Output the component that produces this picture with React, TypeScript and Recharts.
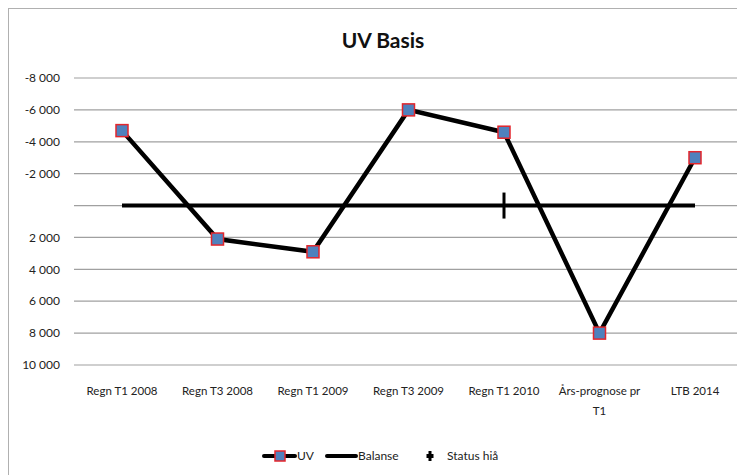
import { LineChart, Line, XAxis, YAxis, CartesianGrid } from "recharts";

const categories = [
  "Regn T1 2008",
  "Regn T3 2008",
  "Regn T1 2009",
  "Regn T3 2009",
  "Regn T1 2010",
  "Års-prognose pr T1",
  "LTB 2014",
];
const uvValues = [-4700, 2100, 2900, -6000, -4600, 8000, -3000];
const balanseValues = [0, 0, 0, 0, 0, 0, 0];
const statusValues = [null, null, null, null, 0, null, null];
const yTicks = [-8000, -6000, -4000, -2000, 0, 2000, 4000, 6000, 8000, 10000];

const data = categories.map((name, i) => ({
  name,
  uv: uvValues[i],
  balanse: balanseValues[i],
  status: statusValues[i],
}));

const FONT = "Lato, 'Open Sans', sans-serif";

const formatNumber = (v: number) => {
  if (v === 0) return "";
  const abs = Math.abs(v);
  const s = abs >= 1000 ? `${Math.floor(abs / 1000)} ${String(abs % 1000).padStart(3, "0")}` : String(abs);
  return v < 0 ? `-${s}` : s;
};

const wrap = (label: string, max: number) => {
  const words = label.split(" ");
  const lines: string[] = [];
  let cur = "";
  words.forEach((w) => {
    const next = cur ? `${cur} ${w}` : w;
    if (next.length > max && cur) {
      lines.push(cur);
      cur = w;
    } else {
      cur = next;
    }
  });
  if (cur) lines.push(cur);
  return lines;
};

const CategoryTick = ({ x, y, payload }: any) => {
  const lines = wrap(payload.value, 16);
  return (
    <text x={x} y={y} textAnchor="middle" fontSize={11.5} fill="#222" fontFamily={FONT}>
      {lines.map((l, i) => (
        <tspan key={i} x={x} dy={i === 0 ? 22 : 20}>
          {l}
        </tspan>
      ))}
    </text>
  );
};

const SquareDot = ({ cx, cy }: any) => {
  if (cx == null || cy == null) return null;
  return <rect x={cx - 6} y={cy - 6} width={12} height={12} fill="#4f81bd" stroke="#e3262c" strokeWidth={1.5} />;
};

const BarDot = ({ cx, cy }: any) => {
  if (cx == null || cy == null) return null;
  return <rect x={cx - 1.5} y={cy - 13} width={3} height={26} fill="#000" />;
};

const CustomLegend = () => (
  <div
    style={{
      position: "absolute",
      top: 437,
      left: 0,
      width: 736,
      height: 20,
      fontFamily: FONT,
      fontSize: 12,
      color: "#222",
    }}
  >
    <svg width={736} height={20} style={{ position: "absolute", left: 0, top: 0 }}>
      <line x1={255} y1={10} x2={286} y2={10} stroke="#000" strokeWidth={4} strokeLinecap="round" />
      <rect x={266} y={5} width={10} height={10} fill="#4f81bd" stroke="#e3262c" strokeWidth={1.5} />
      <line x1={318} y1={10} x2={347} y2={10} stroke="#000" strokeWidth={4} strokeLinecap="round" />
      <rect x={419.5} y={5} width={3} height={10} fill="#000" />
      <rect x={417.5} y={8} width={7} height={4} fill="#000" />
    </svg>
    <span style={{ position: "absolute", left: 288, top: 2 }}>UV</span>
    <span style={{ position: "absolute", left: 349, top: 2 }}>Balanse</span>
    <span style={{ position: "absolute", left: 438, top: 2 }}>Status hiå</span>
  </div>
);

export default function App() {
  return (
    <div
      style={{
        position: "relative",
        width: 736,
        height: 466,
        borderLeft: "1px solid #b0b0b0",
        borderTop: "1px solid #b0b0b0",
        background: "#fff",
        overflow: "hidden",
      }}
    >
      <div
        style={{
          position: "absolute",
          top: 18,
          left: 0,
          width: 736,
          textAlign: "center",
          fontFamily: FONT,
          fontWeight: 700,
          fontSize: 21,
          color: "#111",
          paddingLeft: 6,
        }}
      >
        UV Basis
      </div>
      <LineChart width={736} height={466} data={data} margin={{ top: 69, right: 2, bottom: 60, left: 0 }}>
        <CartesianGrid vertical={false} stroke="#a0a0a0" strokeWidth={1.2} />
        <XAxis
          dataKey="name"
          axisLine={false}
          tickLine={false}
          interval={0}
          height={50}
          padding={{ left: 48, right: 48 }}
          tick={<CategoryTick />}
        />
        <YAxis
          reversed
          domain={[-8000, 10000]}
          ticks={yTicks}
          interval={0}
          width={65}
          axisLine={false}
          tickLine={false}
          tickSize={0}
          tickMargin={14}
          tickFormatter={formatNumber}
          tick={{ fontSize: 12, fill: "#222", fontFamily: FONT }}
        />
        <Line
          dataKey="balanse"
          name="Balanse"
          stroke="#000"
          strokeWidth={4}
          dot={false}
          isAnimationActive={false}
        />
        <Line
          dataKey="status"
          name="Status hiå"
          stroke="none"
          dot={<BarDot />}
          activeDot={false}
          isAnimationActive={false}
        />
        <Line
          type="linear"
          dataKey="uv"
          name="UV"
          stroke="#000"
          strokeWidth={4.5}
          dot={<SquareDot />}
          activeDot={false}
          isAnimationActive={false}
        />
      </LineChart>
      <CustomLegend />
    </div>
  );
}
